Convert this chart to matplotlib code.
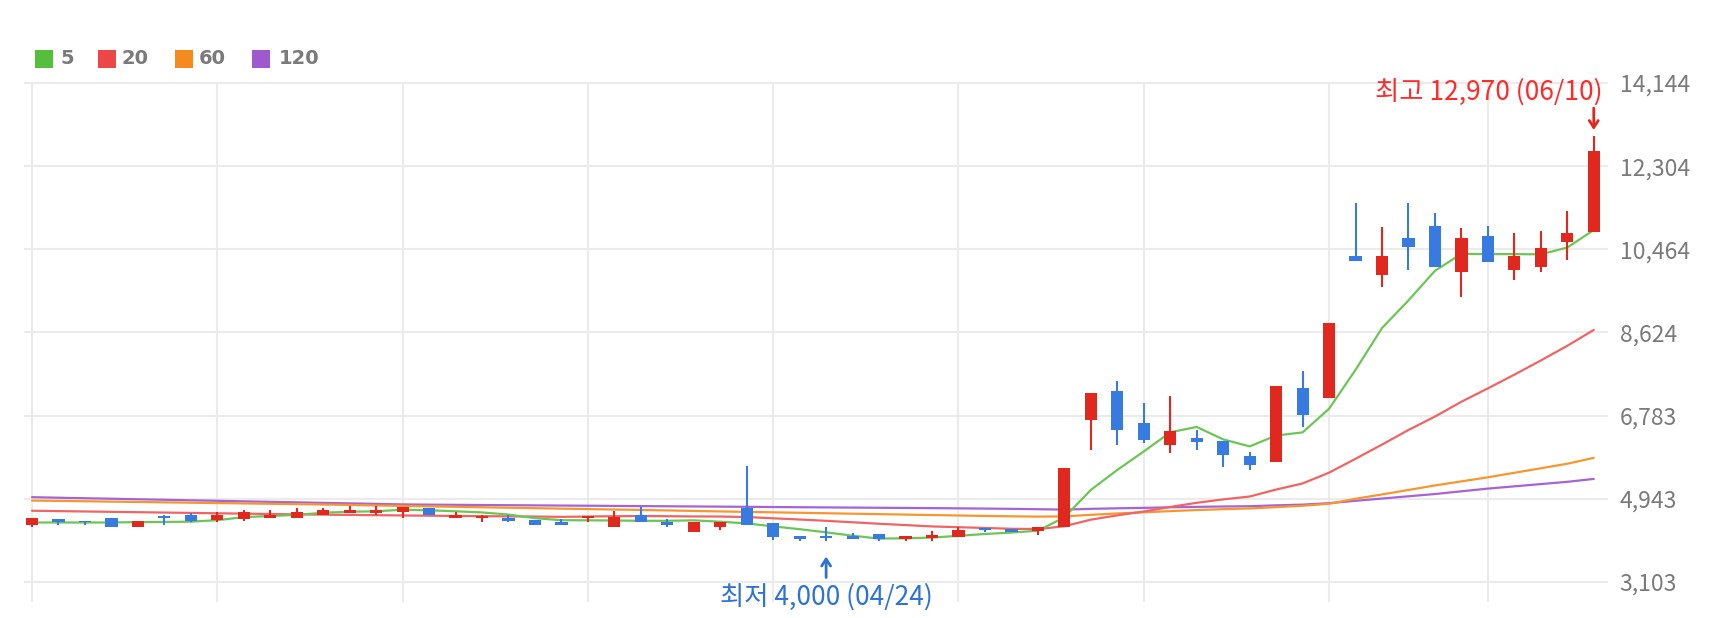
import matplotlib
matplotlib.use('Agg')
import matplotlib.pyplot as plt
from matplotlib.patches import Rectangle
from matplotlib.transforms import offset_copy
import numpy as np

plt.rcParams['font.family'] = ['Noto Sans CJK KR', 'DejaVu Sans']

# daily candles, 2024-03-12 .. 2024-06-10
dates = ['03/12', '03/13', '03/14', '03/15', '03/18', '03/19', '03/20', '03/21', '03/22', '03/25',
         '03/26', '03/27', '03/28', '03/29', '04/01', '04/02', '04/03', '04/04', '04/05', '04/08',
         '04/09', '04/11', '04/12', '04/15', '04/16', '04/17', '04/18', '04/19', '04/22', '04/23',
         '04/24', '04/25', '04/26', '04/29', '04/30', '05/02', '05/03', '05/07', '05/08', '05/09',
         '05/10', '05/13', '05/14', '05/16', '05/17', '05/20', '05/21', '05/22', '05/23', '05/24',
         '05/27', '05/28', '05/29', '05/30', '05/31', '06/03', '06/04', '06/05', '06/07', '06/10']

opens = [4370, 4500, 4450, 4510, 4320, 4573, 4590, 4480, 4500, 4530,
         4530, 4590, 4625, 4625, 4650, 4750, 4530, 4515, 4530, 4477,
         4420, 4515, 4316, 4588, 4442, 4205, 4316, 4735, 4405, 4130,
         4130, 4123, 4168, 4050, 4072, 4095, 4300, 4286, 4242, 4330,
         6690, 7338, 6616, 6137, 6285, 6232, 5900, 5754, 7390, 7183,
         10324, 9897, 10709, 10987, 9956, 10766, 10008, 10067, 10620, 10841]
highs = [4520, 4500, 4455, 4510, 4460, 4575, 4640, 4645, 4700, 4700,
         4750, 4750, 4775, 4775, 4770, 4750, 4650, 4575, 4590, 4477,
         4500, 4573, 4677, 4758, 4500, 4420, 4420, 5680, 4405, 4130,
         4316, 4183, 4168, 4123, 4234, 4316, 4300, 4286, 4330, 5620,
         7293, 7559, 7072, 7227, 6469, 6232, 5975, 7450, 7780, 8828,
         11483, 10960, 11483, 11262, 10930, 10987, 10820, 10877, 11320, 12970]
lows = [4320, 4370, 4370, 4316, 4316, 4370, 4420, 4420, 4455, 4530,
        4530, 4590, 4625, 4580, 4510, 4590, 4530, 4420, 4420, 4367,
        4367, 4420, 4316, 4427, 4316, 4205, 4256, 4367, 4035, 4005,
        4000, 4050, 4010, 4010, 4020, 4095, 4220, 4205, 4144, 4330,
        6026, 6137, 6174, 5966, 6026, 5643, 5584, 5754, 6528, 7183,
        10215, 9625, 10008, 10067, 9404, 10178, 9786, 9956, 10229, 10841]
closes = [4510, 4430, 4420, 4320, 4460, 4530, 4460, 4590, 4650, 4590,
          4650, 4700, 4700, 4700, 4760, 4590, 4590, 4573, 4460, 4367,
          4367, 4573, 4552, 4427, 4367, 4420, 4420, 4367, 4095, 4057,
          4070, 4050, 4050, 4123, 4144, 4256, 4256, 4205, 4330, 5620,
          7293, 6469, 6247, 6453, 6210, 5915, 5694, 7450, 6800, 8828,
          10215, 10324, 10510, 10067, 10709, 10178, 10324, 10487, 10820, 12646]

# moving averages
ma5 = [4420, 4420, 4420, 4420, 4428, 4432, 4438, 4472, 4538, 4564,
       4588, 4636, 4658, 4668, 4702, 4690, 4668, 4643, 4595, 4516,
       4471, 4468, 4464, 4457, 4457, 4468, 4437, 4400, 4334, 4272,
       4202, 4128, 4064, 4070, 4087, 4125, 4166, 4197, 4238, 4533,
       5141, 5583, 5992, 6416, 6534, 6259, 6104, 6344, 6414, 6937,
       7797, 8723, 9335, 9989, 10365, 10358, 10358, 10353, 10504, 10891]
ma20 = [4680, 4672, 4664, 4656, 4648, 4640, 4632, 4624, 4616, 4608,
        4600, 4594, 4588, 4582, 4576, 4570, 4565, 4560, 4556, 4552,
        4545, 4552, 4559, 4564, 4559, 4554, 4552, 4541, 4513, 4486,
        4457, 4425, 4392, 4363, 4333, 4316, 4299, 4281, 4274, 4337,
        4483, 4578, 4663, 4764, 4856, 4931, 4995, 5149, 5284, 5523,
        5830, 6144, 6467, 6764, 7092, 7388, 7691, 8005, 8330, 8681]
ma60 = [4905, 4898, 4890, 4882, 4874, 4866, 4858, 4850, 4842, 4834,
        4826, 4818, 4808, 4797, 4787, 4777, 4767, 4757, 4747, 4737,
        4727, 4717, 4707, 4697, 4687, 4676, 4665, 4655, 4645, 4635,
        4625, 4615, 4605, 4595, 4585, 4575, 4565, 4557, 4550, 4555,
        4590, 4620, 4645, 4672, 4695, 4715, 4730, 4760, 4790, 4835,
        4945, 5040, 5140, 5240, 5330, 5420, 5520, 5620, 5720, 5850]
ma120 = [4980, 4968, 4957, 4946, 4934, 4923, 4911, 4900, 4888, 4877,
         4866, 4854, 4843, 4832, 4820, 4815, 4811, 4807, 4803, 4799,
         4795, 4791, 4787, 4783, 4779, 4775, 4771, 4767, 4762, 4758,
         4754, 4750, 4746, 4742, 4738, 4733, 4728, 4722, 4714, 4705,
         4722, 4734, 4744, 4756, 4766, 4774, 4780, 4800, 4815, 4848,
         4900, 4950, 5000, 5050, 5110, 5170, 5220, 5270, 5320, 5384]

ma_labels = ['5', '20', '60', '120']
ma_colors = ['#6cc655', '#f06464', '#f7962f', '#a564d6']
legend_colors = ['#55be3c', '#ec4646', '#f58a1f', '#9e5acc']

y_ticks = [3103, 4943, 6783, 8624, 10464, 12304, 14144]
grid_days = [0, 7, 14, 21, 28, 35, 42, 49, 55]

UP = '#e0281f'
DOWN = '#377be0'

W, H = 1712, 618
fig = plt.figure(figsize=(W / 100, H / 100), dpi=100)
ax = fig.add_axes([25 / W, (H - 602) / H, (1607 - 25) / W, (602 - 83) / H])

x = np.arange(len(closes))
o = np.array(opens)
c = np.array(closes)
colors = np.where(c >= o, UP, DOWN)

# moving averages (under the candles)
for ma, col in zip([ma120, ma60, ma20, ma5], ma_colors[::-1]):
    ax.plot(x, ma, color=col, lw=1.6, zorder=2, solid_capstyle='round')

# candles
ax.vlines(x, lows, highs, colors=colors, lw=1.5, zorder=3)
body_bottom = np.minimum(o, c)
body_height = np.maximum(np.abs(c - o), 30)
ax.bar(x, body_height, bottom=body_bottom, width=0.46, color=colors, zorder=4, linewidth=0)

ax.set_xlim(-0.265, 59.5)
ax.set_ylim(2661, 14144)

# grid
for d in grid_days:
    ax.axvline(d, color='#ebebeb', lw=1.5, zorder=0)
for t in y_ticks:
    ax.axhline(t, color='#ebebeb', lw=1.5, zorder=0, clip_on=False)

ax.set_yticks(y_ticks)
ax.set_yticklabels([f'{t:,}' for t in y_ticks])
ax.yaxis.tick_right()
ax.tick_params(axis='y', length=0, pad=9, labelsize=16.5, labelcolor='#7a7a7a')
ax.set_xticks([])
for s in ax.spines.values():
    s.set_visible(False)

# high / low annotations
hi = int(np.argmax(highs))
lo = int(np.argmin(lows))
px = 0.72  # points per pixel at 100 dpi
arrow = '->, head_length=0.5, head_width=0.32'

ax.annotate(f'최고 {highs[hi]:,} ({dates[hi]})', xy=(hi, highs[hi]), xytext=(9 * px, 44 * px),
            textcoords='offset points', ha='right', va='center', color='#ff2a2a',
            fontsize=19, annotation_clip=False)
hi_tip = offset_copy(ax.transData, fig=fig, x=0, y=6, units='dots')
ax.annotate('', xy=(hi, highs[hi]), xycoords=hi_tip, xytext=(0, 22 * px),
            textcoords='offset points', annotation_clip=False,
            arrowprops=dict(arrowstyle=arrow, color='#e0281f', lw=2, shrinkA=0, shrinkB=0))

ax.annotate(f'최저 {lows[lo]:,} ({dates[lo]})', xy=(lo, lows[lo]), xytext=(0, -56 * px),
            textcoords='offset points', ha='center', va='center', color='#2e72d6',
            fontsize=19, annotation_clip=False)
lo_tip = offset_copy(ax.transData, fig=fig, x=0, y=-15, units='dots')
ax.annotate('', xy=(lo, lows[lo]), xycoords=lo_tip, xytext=(0, -21 * px),
            textcoords='offset points', annotation_clip=False,
            arrowprops=dict(arrowstyle=arrow, color='#2e72d6', lw=2, shrinkA=0, shrinkB=0))

# legend
sq_x = [35, 98, 175, 252]
txt_x = [60, 122, 199, 279]
for sx, tx, col, lab in zip(sq_x, txt_x, legend_colors, ma_labels):
    fig.add_artist(Rectangle((sx / W, (H - 68) / H), 18 / W, 18 / H, facecolor=col,
                             edgecolor='none', transform=fig.transFigure))
    fig.text(tx / W, (H - 59) / H, lab, fontsize=14, fontweight='bold', color='#7a7a7a',
             va='center', ha='left', family='DejaVu Sans')

fig.savefig('out.png', dpi=100, facecolor='white')
